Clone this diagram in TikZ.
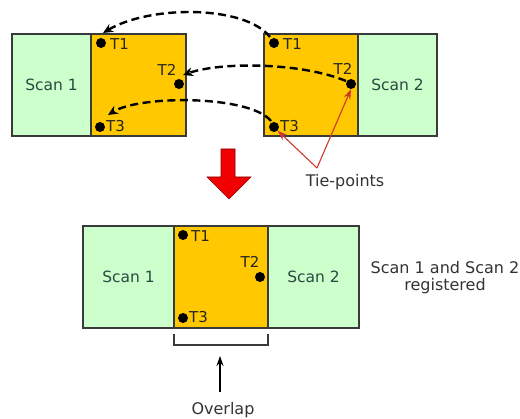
\documentclass[tikz,border=0pt]{standalone}
\usepackage{fontspec}
\setmainfont{DejaVu Sans}
\usetikzlibrary{arrows.meta}
\definecolor{scangreen}{HTML}{CCFFCC}
\definecolor{ovorange}{HTML}{FFC800}
\definecolor{edgegray}{HTML}{3A3A3A}
\definecolor{scantext}{HTML}{2A4A40}
\definecolor{tiered}{HTML}{CC3A2A}
\definecolor{blockred}{HTML}{F00000}
\definecolor{blockdark}{HTML}{8A0000}
\tikzset{
  scanbox/.style={draw=edgegray, line width=1.2pt, fill=scangreen, minimum height=102pt, inner sep=0pt, text=scantext, font=\fontsize{15.5}{18}\selectfont},
  ovbox/.style={draw=edgegray, line width=1.2pt, fill=ovorange, minimum height=102pt, inner sep=0pt},
  tdot/.style={circle, fill=black, minimum size=10pt, inner sep=0pt},
  tlabel/.style={inner sep=0pt, text=black!85, font=\fontsize{15}{17}\selectfont},
  plain/.style={inner sep=0pt, text=black!80, font=\fontsize{16}{18}\selectfont, align=center},
  dasharrow/.style={line width=2.4pt, dash pattern=on 8pt off 4.5pt, -{Stealth[length=10pt,width=9pt]}},
  tiearrow/.style={draw=tiered, line width=1.1pt, -{Stealth[length=10pt,width=7pt]}},
}
\begin{document}
\begin{tikzpicture}[x=1pt,y=-1pt]
\useasboundingbox (0,0) rectangle (520,419);
% top-left pair
\node[scanbox, minimum width=79pt] (s1a) at (51.5,85) {Scan 1};
\node[ovbox, minimum width=95pt] (o1) at (138.5,85) {};
% top-right pair
\node[ovbox, minimum width=94pt] (o2) at (311,85) {};
\node[scanbox, minimum width=79pt] (s2a) at (397.5,85) {Scan 2};
% bottom registered
\node[scanbox, minimum width=91pt] (s1b) at (128.5,277) {Scan 1};
\node[ovbox, minimum width=94pt] (ob) at (221,277) {};
\node[scanbox, minimum width=91pt] (s2b) at (313.5,277) {Scan 2};
% dots top-left
\node[tdot] (d1a) at (101,43) {};
\node[tdot] (d2a) at (179,84) {};
\node[tdot] (d3a) at (100,127) {};
\node[tlabel, anchor=west] (l1a) at (110,44) {T1};
\node[tlabel] (l2a) at (167,70) {T2};
\node[tlabel, anchor=west] (l3a) at (106,126) {T3};
% dots top-right
\node[tdot] (e1) at (274,43) {};
\node[tdot] (e2) at (351,84) {};
\node[tdot] (e3) at (274,127) {};
\node[tlabel, anchor=west] (l1b) at (283,44) {T1};
\node[tlabel] (l2b) at (343,69) {T2};
\node[tlabel, anchor=west] (l3b) at (280,126) {T3};
% dots bottom
\node[tdot] (f1) at (183,235) {};
\node[tdot] (f2) at (260,277) {};
\node[tdot] (f3) at (183,318) {};
\node[tlabel, anchor=west] (l1c) at (191,236) {T1};
\node[tlabel] (l2c) at (250,262) {T2};
\node[tlabel, anchor=west] (l3c) at (189,317) {T3};
% dashed correspondences
\coordinate (c1s) at (270,37);
\coordinate (c1e) at (103,33);
\coordinate (c2s) at (346,81);
\coordinate (c2e) at (183,75);
\coordinate (c3s) at (271,121);
\coordinate (c3e) at (108,115);
\draw[dasharrow] (c1s) .. controls (245,5) and (150,5) .. (c1e);
\draw[dasharrow] (c2s) .. controls (300,62) and (220,62) .. (c2e);
\draw[dasharrow] (c3s) .. controls (250,95) and (140,95) .. (c3e);
% tie-points
\node[plain, text=black!80] (tie) at (345,182) {Tie-points};
\coordinate (tiep) at (317,168);
\draw[tiearrow] (tiep) -- (e3.south east);
\draw[tiearrow] (tiep) -- (e2.south);
% red block arrow
\draw[fill=blockred, draw=blockdark, line width=0.6pt, line join=miter]
  (221,149) -- (235,149) -- (235,177) -- (251,177) -- (229,199) -- (207,177) -- (221,177) -- cycle;
% registered label
\node[plain] (reg) at (445,278) {Scan 1 and Scan 2\\[-1pt]registered};
% overlap bracket
\draw[edgegray, line width=1.2pt] (174,334) -- (174,345) -- (268,345) -- (268,334);
\node[plain] (ovl) at (223,410) {Overlap};
\coordinate (oa) at (220,392);
\coordinate (ob2) at (220,356);
\draw[line width=1.2pt, -{Stealth[length=10pt,width=7pt]}] (oa) -- (ob2);
\end{tikzpicture}
\end{document}
